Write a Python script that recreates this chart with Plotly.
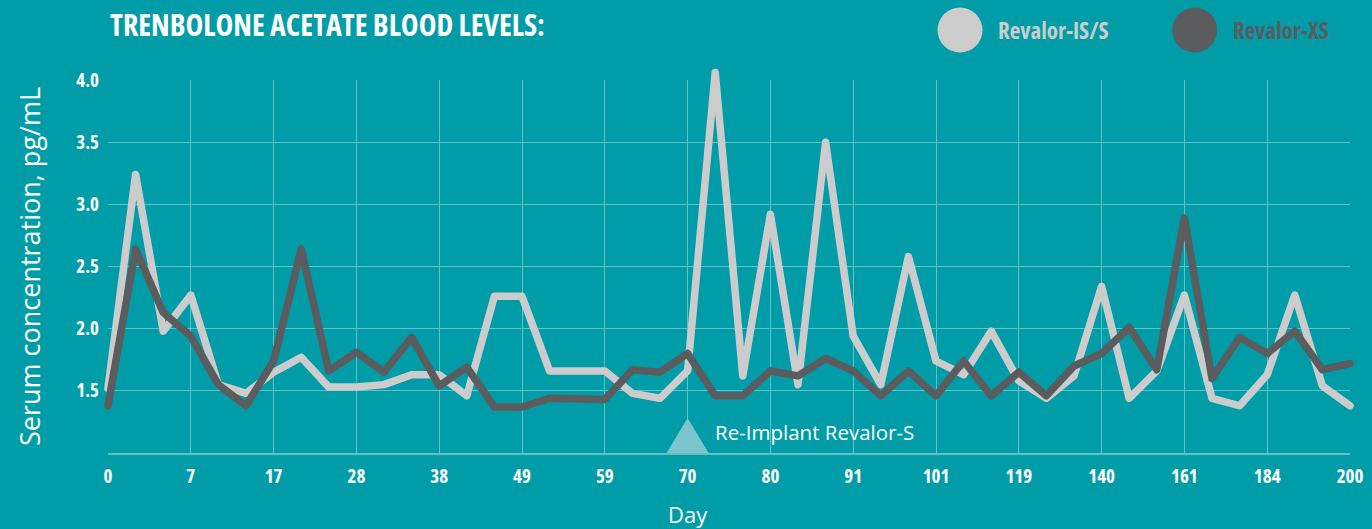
import plotly.graph_objects as go

# ---- data ----
day_labels = ["0", "7", "17", "28", "38", "49", "59", "70", "80", "91",
              "101", "119", "140", "161", "184", "200"]
samples_per_label = 3  # three samples between consecutive day labels
revalor_is_s = [1.52, 3.24, 1.98, 2.27, 1.55, 1.48, 1.65, 1.77, 1.53, 1.53,
                1.55, 1.63, 1.63, 1.46, 2.26, 2.26, 1.66, 1.66, 1.66, 1.48,
                1.44, 1.66, 4.06, 1.62, 2.92, 1.55, 3.50, 1.94, 1.55, 2.58,
                1.74, 1.63, 1.98, 1.58, 1.44, 1.62, 2.34, 1.44, 1.66, 2.27,
                1.44, 1.38, 1.63, 2.27, 1.54, 1.38]
revalor_xs = [1.38, 2.64, 2.13, 1.94, 1.55, 1.38, 1.74, 2.64, 1.66, 1.81,
              1.65, 1.93, 1.54, 1.69, 1.37, 1.37, 1.44, 1.44, 1.43, 1.67,
              1.65, 1.80, 1.46, 1.46, 1.66, 1.62, 1.76, 1.66, 1.46, 1.66,
              1.46, 1.74, 1.46, 1.65, 1.46, 1.70, 1.80, 2.01, 1.67, 2.89,
              1.60, 1.93, 1.80, 1.98, 1.67, 1.72]
y_ticks = [1.5, 2.0, 2.5, 3.0, 3.5, 4.0]
reimplant_day = "70"

BG = "#009DA8"
GRID = "#62C0C6"
LIGHT = "#CCCCCC"
DARK = "#5A5C5E"
FONT = "Open Sans, DejaVu Sans, sans-serif"


def condensed(text):
    return f"<span style='font-stretch:75%'>{text}</span>"


x_idx = list(range(len(revalor_is_s)))
tick_pos = [i * samples_per_label for i in range(len(day_labels))]
reimplant_x = tick_pos[day_labels.index(reimplant_day)]

fig = go.Figure()
fig.add_trace(go.Scatter(x=x_idx, y=revalor_is_s, mode="lines", name="Revalor-IS/S",
                         line=dict(color=LIGHT, width=7.5), cliponaxis=False))
fig.add_trace(go.Scatter(x=x_idx, y=revalor_xs, mode="lines", name="Revalor-XS",
                         line=dict(color=DARK, width=7.5), cliponaxis=False))

fig.update_layout(
    width=1372, height=529,
    paper_bgcolor=BG, plot_bgcolor=BG,
    margin=dict(l=108, r=22, t=80, b=76, autoexpand=False),
    showlegend=False,
    xaxis=dict(range=[0, tick_pos[-1]], tickvals=tick_pos, ticktext=day_labels,
               showgrid=True, gridcolor=GRID, gridwidth=1, zeroline=False,
               showline=True, linecolor=GRID, linewidth=2,
               tickfont=dict(family=FONT, size=19, color="white", weight="bold"),
               ticks="", ticklabelstandoff=5),
    yaxis=dict(range=[1.0, 4.0], tickvals=y_ticks, ticktext=[f"{v:.1f}" for v in y_ticks],
               showgrid=True, gridcolor=GRID, gridwidth=1, zeroline=False,
               showline=False,
               tickfont=dict(family=FONT, size=19, color="white", weight="bold"),
               ticks="", ticklabelstandoff=8,
               title=dict(text="Serum concentration, pg/mL",
                          font=dict(family=FONT, size=27, color="white"), standoff=23)),
)

# x-axis title (sits under the day-70 label in the original)
fig.add_annotation(x=0.467, y=-0.1635, xref="paper", yref="paper", xanchor="center",
                   yanchor="middle", showarrow=False, text="Day",
                   font=dict(family=FONT, size=22, color="white"))

# re-implant marker
fig.add_shape(type="path", xref="x", yref="y", xsizemode="pixel", ysizemode="pixel",
              xanchor=reimplant_x, yanchor=1.0,
              path="M-21,0 L21,0 L0,35 Z", fillcolor="#7DC5CD", line=dict(width=0),
              layer="above")
fig.add_annotation(x=reimplant_x, y=1.0, xref="x", yref="y", yanchor="bottom",
                   xanchor="left", xshift=25, yshift=5, showarrow=False,
                   text="Re-Implant Revalor-S",
                   font=dict(family=FONT, size=20.5, color="white"))

# title
fig.add_annotation(x=0.0, y=1.150, xref="paper", yref="paper", xanchor="left",
                   yanchor="middle", showarrow=False,
                   text=condensed("<b>TRENBOLONE ACETATE BLOOD LEVELS:</b>"),
                   font=dict(family=FONT, size=30, color="white"))

# legend
legend_y = 1.134
legend_items = [("Revalor-IS/S", LIGHT, 0.686, 0.715), ("Revalor-XS", DARK, 0.875, 0.904)]
for name, col, cx, tx in legend_items:
    fig.add_shape(type="circle", xref="paper", yref="paper", xsizemode="pixel",
                  ysizemode="pixel", xanchor=cx, yanchor=legend_y,
                  x0=-22.5, x1=22.5, y0=-22.5, y1=22.5, fillcolor=col, line=dict(width=0))
    fig.add_annotation(x=tx, y=legend_y, xref="paper", yref="paper", xanchor="left",
                       yanchor="middle", showarrow=False,
                       text=condensed(f"<b>{name}</b>"),
                       font=dict(family=FONT, size=23, color=col))

css = ("<style>body{margin:0}"
       ".xtick text,.ytick text{font-stretch:75% !important;}"
       ".main-svg *{clip-path:none !important;}"
       ".scatterlayer path.js-line{stroke-linejoin:round !important;"
       "stroke-linecap:round !important;}</style>")
fig.write_html("out.html", config={"displayModeBar": False},
               post_script="document.body.style.margin='0px';"
                           "document.head.insertAdjacentHTML('beforeend', %r);" % css)
